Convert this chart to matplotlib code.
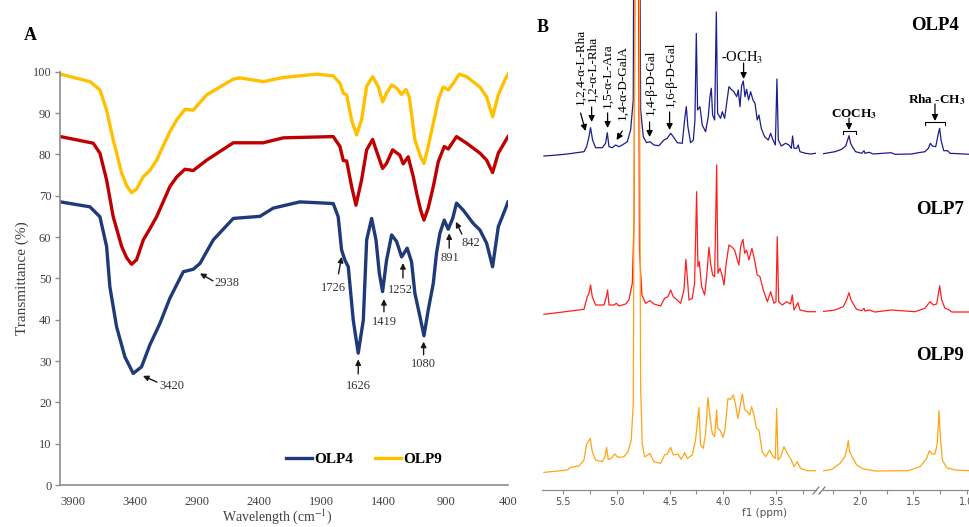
import matplotlib
matplotlib.use('Agg')
import matplotlib.pyplot as plt
from matplotlib.lines import Line2D

plt.rcParams['font.family'] = 'serif'
plt.rcParams['font.serif'] = ['Liberation Serif', 'DejaVu Serif']
plt.rcParams['mathtext.fontset'] = 'stix'

# ---------------- panel A : FTIR ----------------
w_olp4 = [4000, 3763, 3683, 3629, 3603, 3549, 3482, 3415, 3348, 3281, 3200, 3120, 3012, 2932, 2878,
          2771, 2610, 2396, 2288, 2074, 1806, 1766, 1739, 1712, 1685, 1645, 1605, 1564, 1537, 1497,
          1462, 1435, 1409, 1377, 1336, 1296, 1256, 1211, 1176, 1149, 1108, 1076, 1042, 1001, 975,
          948, 913, 881, 845, 814, 760, 680, 626, 572, 524, 478, 425, 400]
t_olp4 = [68.5, 67.3, 64.9, 57.7, 48.0, 38.3, 31.0, 27.0, 28.6, 33.9, 39.1, 45.2, 51.6, 52.2, 53.6,
          59.3, 64.5, 65.0, 67.0, 68.5, 68.1, 64.9, 56.9, 54.4, 52.8, 39.9, 31.9, 39.9, 59.3, 64.5,
          59.3, 51.2, 46.8, 54.4, 60.5, 58.9, 55.2, 57.3, 54.0, 46.4, 40.7, 36.1, 42.3, 48.8, 56.1,
          60.9, 64.1, 61.9, 64.5, 68.2, 66.5, 63.3, 61.7, 58.5, 52.8, 62.5, 66.5, 68.5]

w_olp7 = [4000, 3737, 3683, 3629, 3576, 3508, 3468, 3428, 3388, 3334, 3281, 3227, 3120, 3066, 2999,
          2932, 2824, 2610, 2369, 2208, 1806, 1752, 1725, 1698, 1658, 1623, 1578, 1537, 1489, 1452,
          1409, 1377, 1328, 1270, 1243, 1203, 1162, 1135, 1103, 1076, 1042, 1001, 961, 913, 881,
          814, 733, 626, 572, 524, 478, 400]
t_olp7 = [84.3, 82.7, 80.3, 73.8, 64.9, 57.7, 55.0, 53.4, 54.5, 59.3, 62.0, 64.9, 72.2, 74.5, 76.4,
          76.1, 78.6, 82.8, 82.8, 84.0, 84.3, 81.9, 78.5, 78.4, 72.2, 67.7, 73.8, 81.1, 83.6, 80.3,
          76.6, 77.8, 81.1, 79.8, 77.7, 79.4, 74.6, 70.6, 66.5, 64.1, 67.0, 72.2, 78.2, 81.9, 81.3,
          84.3, 82.7, 80.3, 78.6, 75.6, 80.3, 84.3]

w_olp9 = [4000, 3763, 3683, 3629, 3576, 3508, 3468, 3428, 3388, 3334, 3281, 3227, 3120, 3066, 2999,
          2932, 2824, 2610, 2556, 2369, 2208, 1940, 1806, 1752, 1725, 1698, 1658, 1618, 1578, 1537,
          1489, 1444, 1409, 1377, 1336, 1296, 1256, 1221, 1194, 1149, 1103, 1076, 1042, 1001, 961,
          921, 881, 840, 792, 733, 626, 572, 524, 478, 425, 400]
t_olp9 = [99.4, 97.6, 95.6, 90.7, 83.5, 75.5, 72.4, 70.7, 71.6, 74.6, 76.1, 78.6, 85.5, 88.3, 90.9,
          90.7, 94.4, 98.2, 98.5, 97.6, 98.6, 99.4, 99.0, 97.2, 94.8, 94.4, 88.3, 84.7, 88.3, 96.5,
          98.8, 96.4, 92.7, 94.8, 96.8, 96.0, 94.5, 95.7, 93.9, 83.5, 79.4, 77.8, 81.9, 87.5, 93.2,
          96.3, 95.6, 97.2, 99.4, 98.8, 96.3, 93.9, 89.1, 94.4, 98.0, 99.4]

# band labels: (text, arrow head, arrow tail, text position, alignment)
ftir_labels = [
    ('3420', (3337, 26.4), (3224, 24.9), (3208, 24.0), 'left'),
    ('2938', (2878, 51.2), (2774, 49.4), (2758, 48.8), 'left'),
    ('1726', (1738, 55.2), (1764, 51.1), (1806, 47.7), 'center'),
    ('1626', (1605, 30.4), (1605, 26.9), (1605, 24.0), 'center'),
    ('1419', (1398, 45.0), (1398, 41.9), (1398, 39.4), 'center'),
    ('1252', (1245, 53.7), (1245, 50.1), (1263, 47.2), 'center'),
    ('1080', (1079, 34.7), (1079, 31.5), (1082, 29.2), 'center'),
    ('891', (873, 60.9), (873, 57.3), (867, 54.9), 'center'),
    ('842', (819, 63.7), (771, 60.7), (701, 58.5), 'center'),
]

# ---------------- panel B : 1H NMR ----------------
ppm_olp4 = [5.682, 5.588, 5.463, 5.306, 5.281, 5.259, 5.244, 5.225, 5.197, 5.134, 5.103, 5.087, 5.071,
            5.040, 5.009, 4.977, 4.946, 4.899, 4.868, 4.843, 4.830, 4.795, 4.774, 4.749, 4.718, 4.686,
            4.649, 4.602, 4.555, 4.524, 4.492, 4.467, 4.430, 4.383, 4.361, 4.345, 4.330, 4.305, 4.279,
            4.264, 4.251, 4.239, 4.217, 4.195, 4.164, 4.139, 4.123, 4.110, 4.098, 4.079, 4.063, 4.051,
            4.023, 4.007, 3.985, 3.966, 3.945, 3.923, 3.898, 3.872, 3.857, 3.841, 3.826, 3.810, 3.794,
            3.779, 3.760, 3.741, 3.719, 3.700, 3.679, 3.663, 3.641, 3.610, 3.575, 3.553, 3.531, 3.509,
            3.494, 3.481, 3.453, 3.413, 3.381, 3.359, 3.347, 3.334, 3.309, 3.294, 3.278, 3.225, 3.178,
            3.131,
            2.360, 2.235, 2.172, 2.134, 2.116, 2.103, 2.088, 2.072, 2.041, 1.984, 1.962, 1.953, 1.915,
            1.875, 1.709, 1.671, 1.515, 1.452, 1.390, 1.358, 1.339, 1.321, 1.289, 1.264, 1.252, 1.239,
            1.214, 1.177, 1.155, 0.967]
int_olp4 = [-1, -0.3, 1, 3.3, 8.3, 18.3, 27.3, 15, 7.3, 7.3, 11.7, 22.3, 8.3,
            7.3, 10, 8.3, 10, 13.3, 25, 55, 520, 520, 45, 18.3, 12.3, 13.3,
            10, 9.3, 15, 16.7, 21.7, 18.3, 12.3, 11.7, 35, 48.3, 28.3, 12.3, 15,
            35, 121.7, 45, 48.3, 30, 23.3, 38.3, 58.3, 66.7, 40, 35, 143, 41.7,
            36.7, 43.3, 36.7, 51.7, 68.3, 65.7, 63.3, 58.3, 65, 48.3, 69, 74, 58.3,
            65.7, 55, 63.3, 55, 51.7, 35, 40, 26.7, 18.3, 15, 21.7, 15, 10,
            76, 15, 9, 11.7, 10, 6.7, 19, 6.7, 6.7, 10, 3.3, 1.7, 1,
            1.7,
            1, 3.3, 5.7, 9, 15, 19.3, 11.7, 8.3, 3.3, 1.7, 4.3, 1.7, 2.7,
            1, 2.3, 0.7, 1, 2.3, 3.3, 6.7, 11.7, 9, 8.3, 21.7, 26.7, 15,
            4.3, 4.3, 1.7, 0.7]

ppm_olp7 = [5.682, 5.557, 5.431, 5.306, 5.275, 5.259, 5.244, 5.228, 5.197, 5.118, 5.096, 5.084, 5.071,
            5.024, 5.002, 4.977, 4.915, 4.884, 4.852, 4.835, 4.822, 4.800, 4.785, 4.762, 4.727, 4.686,
            4.649, 4.586, 4.549, 4.517, 4.492, 4.467, 4.430, 4.398, 4.367, 4.349, 4.336, 4.320, 4.289,
            4.267, 4.248, 4.236, 4.223, 4.201, 4.173, 4.154, 4.132, 4.117, 4.098, 4.079, 4.060, 4.048,
            4.029, 4.010, 3.991, 3.970, 3.945, 3.920, 3.891, 3.866, 3.851, 3.835, 3.813, 3.797, 3.779,
            3.757, 3.729, 3.704, 3.679, 3.653, 3.622, 3.584, 3.553, 3.522, 3.503, 3.491, 3.478, 3.444,
            3.403, 3.366, 3.350, 3.334, 3.297, 3.278, 3.209, 3.131,
            2.360, 2.235, 2.157, 2.126, 2.103, 2.084, 2.063, 2.031, 1.984, 1.962, 1.953, 1.915, 1.859,
            1.709, 1.484, 1.390, 1.343, 1.311, 1.280, 1.252, 1.233, 1.202, 1.171, 1.139, 0.967]
int_olp7 = [-1.3, 0.3, 2, 3.7, 16.3, 19.7, 28, 16.3, 8, 8, 16.3, 23, 8,
            8, 9.7, 7, 9, 13, 29.7, 96, 520, 520, 63, 18, 9.7, 12.3,
            9, 7, 14.7, 16.3, 23, 16.3, 13, 9.7, 23, 53.7, 36.3, 13, 14.7,
            29.7, 121.3, 46.3, 51.3, 26.3, 18, 36.3, 65.7, 49.7, 38, 36.3, 148, 39.7,
            44.7, 38, 28, 49.7, 68, 66.3, 63, 53, 48, 66.3, 73.7, 59.7, 63,
            53, 64.7, 53, 38, 36.3, 23, 11.3, 21.3, 9.7, 11.3, 76.3, 11.3, 8,
            11.3, 9, 18, 3, 10.3, 3, 1.3, 1.3,
            1.3, 3, 6.3, 13, 20.3, 13, 9, 3.7, 2.3, 4.7, 2, 3, 1,
            3, 1.3, 4.7, 11.3, 8, 9, 27.3, 13, 4.7, 3.7, 1, 1]

ppm_olp9 = [5.682, 5.463, 5.431, 5.353, 5.306, 5.281, 5.266, 5.247, 5.228, 5.197, 5.134, 5.109, 5.093,
            5.078, 5.050, 5.018, 4.987, 4.931, 4.893, 4.862, 4.843, 4.827, 4.787, 4.774, 4.759, 4.737,
            4.705, 4.686, 4.649, 4.586, 4.549, 4.524, 4.492, 4.467, 4.423, 4.392, 4.361, 4.336, 4.289,
            4.258, 4.239, 4.226, 4.211, 4.186, 4.164, 4.142, 4.123, 4.101, 4.079, 4.060, 4.051, 4.029,
            4.001, 3.982, 3.954, 3.929, 3.904, 3.882, 3.860, 3.841, 3.819, 3.797, 3.772, 3.750, 3.732,
            3.710, 3.685, 3.663, 3.632, 3.600, 3.563, 3.531, 3.509, 3.497, 3.484, 3.459, 3.428, 3.397,
            3.359, 3.334, 3.303, 3.272, 3.209, 3.131,
            2.391, 2.266, 2.188, 2.141, 2.119, 2.110, 2.097, 2.078, 2.031, 1.969, 1.859, 1.546, 1.437,
            1.374, 1.349, 1.327, 1.296, 1.274, 1.258, 1.246, 1.227, 1.186, 1.108, 0.967]
int_olp9 = [-0.7, 1.7, 4.3, 5.7, 11.7, 27.7, 30, 33.3, 20, 11.7, 10, 15, 24.3,
            12.3, 13.3, 17.7, 14.3, 15, 20, 31.7, 68.3, 520, 520, 85, 28.3, 15,
            16.7, 18.3, 10, 8.3, 16.7, 17.7, 24.3, 16.7, 17.7, 12.3, 19, 13.3, 16.7,
            31.7, 51.7, 64.3, 26.7, 23.3, 38.3, 74.3, 55, 38.3, 35, 61.7, 43.3, 41.7,
            34.3, 41.7, 73.3, 72.3, 76.7, 66.7, 53.3, 64.3, 77.7, 62.3, 60, 56.7, 65,
            56.7, 43.3, 41.7, 20, 15, 21.7, 15, 13.3, 63.3, 11.7, 15, 25, 18.3,
            11.7, 5, 10, 3.3, 1, 1,
            0, 2.3, 8.3, 15, 25, 31, 20, 15.7, 6.7, 2.7, 0.7, 1, 5,
            13.3, 21, 17.7, 17.7, 28.3, 61, 35, 11.7, 4, 1.7, 1]

offsets = {'OLP4': 335, 'OLP7': 177, 'OLP9': 18.3}

# rotated assignment labels: (text, text anchor, arrow tail, arrow head)
nmr_labels = [
    ('1,2,4-α-L-Rha', (5.338, 385), (5.338, 377), (5.291, 359)),
    ('1,2-α-L-Rha', (5.222, 388), (5.234, 383), (5.234, 368)),
    ('1,5-α-L-Ara', (5.087, 382), (5.084, 377), (5.084, 362)),
    ('1,4-α-D-GalA', (4.946, 370), (4.946, 359), (5.000, 350)),
    ('1,4-β-D-Gal', (4.680, 375), (4.690, 368), (4.690, 353)),
    ('1,6-β-D-Gal', (4.492, 383), (4.502, 378), (4.502, 360)),
]

c4, c7, c9 = '#1F3A78', '#C00000', '#FFC000'
n4, n7, n9 = '#1c1c8f', '#ff1f1f', '#ffa514'

fig = plt.figure(figsize=(9.7, 5.27), dpi=100)


def box(left, top, right, bottom):
    return [left / 970, 1 - bottom / 527, (right - left) / 970, (bottom - top) / 527]


def fpt(x, y):
    return x / 970, 1 - y / 527


# ---- A ----
axA = fig.add_axes(box(60.5, 71.7, 508, 485))
l4, = axA.plot(w_olp4, t_olp4, color=c4, lw=2.4, solid_joinstyle='round')
axA.plot(w_olp7, t_olp7, color=c7, lw=2.4, solid_joinstyle='round')
l9, = axA.plot(w_olp9, t_olp9, color=c9, lw=2.4, solid_joinstyle='round')
axA.set_xlim(4000, 400)
axA.set_ylim(0, 100)
axA.set_xticks(range(3900, 399, -500))
axA.set_yticks(range(0, 101, 10))
for s in ['top', 'right']:
    axA.spines[s].set_visible(False)
for s in ['left', 'bottom']:
    axA.spines[s].set_color('#8c8c8c')
    axA.spines[s].set_linewidth(1.2)
axA.tick_params(axis='x', length=0, pad=8, labelsize=9, labelcolor='#404040')
axA.tick_params(axis='y', length=3.5, width=1, color='#8c8c8c', pad=3, labelsize=9, labelcolor='#404040')
axA.set_ylabel('Transmittance (%)', fontsize=11, color='#404040', labelpad=3)
fig.text(*fpt(277, 517), 'Wavelength (cm$^{-1}$)', ha='center', va='center', fontsize=10, color='#404040')

for txt, head, tail, pos, ha in ftir_labels:
    axA.annotate('', xy=head, xytext=tail,
                 arrowprops=dict(arrowstyle='-|>', color='#1a1a1a', lw=1, mutation_scale=8, shrinkA=0, shrinkB=0))
    axA.text(pos[0], pos[1], txt, ha=ha, va='center', fontsize=9, color='#333333')

axA.legend([l4, l9], ['OLP4', 'OLP9'], loc='center', bbox_to_anchor=fpt(364, 459),
           bbox_transform=fig.transFigure, ncol=2, frameon=False,
           prop=dict(family='serif', weight='bold', size=11), handlelength=1.7,
           handletextpad=0.15, columnspacing=1.4)

fig.text(*fpt(30, 36), 'A', fontsize=13, fontweight='bold', ha='center', va='center')
fig.text(*fpt(543, 28), 'B', fontsize=13, fontweight='bold', ha='center', va='center')

# ---- B ----
axB1 = fig.add_axes(box(542, 0, 815.7, 490))
axB2 = fig.add_axes(box(822.7, 0, 969.7, 490))
for ax, lims, major, minor in [(axB1, (5.70, 3.13), [5.5, 5.0, 4.5, 4.0, 3.5], [5.25, 4.75, 4.25, 3.75, 3.25]),
                               (axB2, (2.35, 0.97), [2.0, 1.5, 1.0], [2.25, 1.75, 1.25])]:
    for name, ppm, inten, col in [('OLP4', ppm_olp4, int_olp4, n4),
                                  ('OLP7', ppm_olp7, int_olp7, n7),
                                  ('OLP9', ppm_olp9, int_olp9, n9)]:
        ax.plot(ppm, [v + offsets[name] for v in inten], color=col, lw=0.9)
    ax.set_xlim(*lims)
    ax.set_ylim(0, 490)
    ax.set_xticks(major)
    ax.set_xticklabels(['%.1f' % v for v in major])
    ax.set_xticks(minor, minor=True)
    ax.set_yticks([])
    for s in ['top', 'right', 'left']:
        ax.spines[s].set_visible(False)
    ax.spines['bottom'].set_color('#8c8c8c')
    ax.spines['bottom'].set_linewidth(0.9)
    ax.tick_params(axis='x', which='both', length=3, width=0.8, color='#8c8c8c', pad=2,
                   labelsize=7, labelcolor='#505050')
    for lab in ax.get_xticklabels():
        lab.set_family('DejaVu Sans')
    ax.patch.set_alpha(0)

fig.text(*fpt(765, 513), 'f1 (ppm)', ha='center', va='center', fontsize=7.5,
         color='#505050', family='DejaVu Sans')

# axis break marks
for xb in [816, 822]:
    fig.add_artist(Line2D([(xb - 3) / 970, (xb + 3) / 970], [1 - 494 / 527, 1 - 487 / 527],
                          color='#707070', lw=0.8))

arrow_b = dict(arrowstyle='-|>', color='black', lw=0.9, mutation_scale=9, shrinkA=0, shrinkB=0)
for txt, pos, tail, head in nmr_labels:
    axB1.text(pos[0], pos[1], txt, rotation=90, ha='center', va='bottom', fontsize=9.5)
    axB1.annotate('', xy=head, xytext=tail, arrowprops=arrow_b)

axB1.text(3.821, 432.5, '-OCH$_3$', ha='center', va='center', fontsize=10.5)
axB1.annotate('', xy=(3.807, 411), xytext=(3.807, 427), arrowprops=arrow_b)

axB2.text(2.056, 375.5, 'COCH$_\\mathbf{3}$', ha='center', va='center', fontsize=9.5, fontweight='bold')
axB2.plot([2.157, 2.157, 2.040, 2.040], [356, 359.3, 359.3, 356], color='black', lw=0.8)
axB2.annotate('', xy=(2.103, 360), xytext=(2.103, 371.7), arrowprops=arrow_b)

axB2.text(1.280, 390.7, 'Rha -CH$_\\mathbf{3}$', ha='center', va='center', fontsize=9.5, fontweight='bold')
axB2.plot([1.390, 1.390, 1.202, 1.202], [365, 368.3, 368.3, 365], color='black', lw=0.8)
axB2.annotate('', xy=(1.296, 369), xytext=(1.296, 386), arrowprops=arrow_b)

for name, x, y in [('OLP4', 1.296, 465), ('OLP7', 1.249, 280), ('OLP9', 1.249, 135)]:
    axB2.text(x, y, name, ha='center', va='center', fontsize=13.5, fontweight='bold')

fig.savefig('out.png', dpi=100)
plt.close(fig)
